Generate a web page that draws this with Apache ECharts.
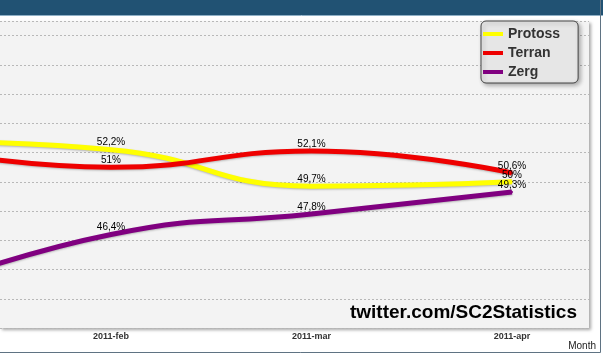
<!DOCTYPE html>
<html>
<head>
<meta charset="utf-8">
<script src="https://cdn.jsdelivr.net/npm/echarts@6/dist/echarts.min.js"></script>
<style>
html,body{margin:0;padding:0;background:#fff;}
#chart{width:603px;height:364px;}
</style>
</head>
<body>
<div id="chart"></div>
<script>
const categories = ['2011-jan', '2011-feb', '2011-mar', '2011-apr'];
const protoss = [52.8, 52.2, 49.7, 50.0];
const terran = [52.4, 51.0, 52.1, 50.6];
const zerg = [42.3, 46.4, 47.8, 49.3];
const seriesNames = ['Protoss', 'Terran', 'Zerg'];
const yMin = 40, yMax = 61, yStep = 2;

const chart = echarts.init(document.getElementById('chart'), null, {renderer: 'canvas'});

function fmt(p) {
  return String(p.value).replace('.', ',') + '%';
}
function lineSeries(name, data, color) {
  return {
    name: name,
    type: 'line',
    xAxisIndex: 1,
    yAxisIndex: 1,
    data: data,
    smooth: 0.5,
    clip: true,
    symbol: 'circle',
    symbolSize: 2,
    color: color,
    itemStyle: {color: color},
    lineStyle: {width: 5, color: color, shadowColor: 'rgba(0,0,0,0.25)', shadowBlur: 2, shadowOffsetY: 1},
    label: {
      show: true, position: 'top', distance: 1,
      fontFamily: 'Liberation Sans', fontSize: 10, color: '#000',
      formatter: fmt
    },
    z: 3
  };
}

chart.setOption({
  animation: false,
  backgroundColor: '#ffffff',
  grid: [
    {left: 0, top: 21, width: 589, height: 307, show: true, backgroundColor: '#f3f3f3', borderWidth: 0,
     outerBoundsMode: 'none', containLabel: false,
     shadowColor: 'rgba(0,0,0,0.35)', shadowBlur: 3, shadowOffsetX: 2, shadowOffsetY: 2},
    {left: -89.5, top: 21, width: 601.5, height: 307, outerBoundsMode: 'none', containLabel: false}
  ],
  xAxis: [
    {type: 'value', gridIndex: 0, min: 0, max: 1, show: false},
    {type: 'category', gridIndex: 1, data: categories, boundaryGap: false,
     axisLine: {show: false}, axisTick: {show: false}, splitLine: {show: false},
     axisLabel: {margin: 4, fontFamily: 'Liberation Sans', fontWeight: 'bold', fontSize: 9, color: '#333'}}
  ],
  yAxis: [
    {type: 'value', gridIndex: 0, min: yMin, max: yMax, interval: yStep,
     axisLine: {show: false}, axisTick: {show: false}, axisLabel: {show: false},
     splitLine: {show: true, lineStyle: {color: '#b8b8b8', width: 1, type: [2, 2]}}},
    {type: 'value', gridIndex: 1, min: yMin, max: yMax, interval: yStep, show: false,
     splitLine: {show: false}}
  ],
  legend: {
    data: seriesNames,
    orient: 'vertical',
    left: 481, top: 21,
    icon: 'rect', itemWidth: 20, itemHeight: 4, itemGap: 3, itemTextGap: 5,
    padding: [5, 18, 3, 2],
    backgroundColor: '#e6e6e6', borderColor: '#444', borderWidth: 1, borderRadius: 5,
    shadowColor: 'rgba(0,0,0,0.3)', shadowBlur: 4, shadowOffsetX: 2, shadowOffsetY: 2,
    textStyle: {fontFamily: 'Liberation Sans', fontWeight: 'bold', fontSize: 14, color: '#333', lineHeight: 16}
  },
  graphic: [
    {type: 'rect', shape: {x: 0, y: 0, width: 603, height: 15}, style: {fill: '#215273'}, z: 10},
    {type: 'line', shape: {x1: 0, y1: 15.5, x2: 603, y2: 15.5}, style: {stroke: '#8fb0c6', lineWidth: 1}, z: 10},
    {type: 'polyline', shape: {points: [[600.5, 0], [600.5, 352.5], [0, 352.5]]}, style: {stroke: '#5f7383', lineWidth: 1, fill: null}, z: 10},
    {type: 'text', x: 577, y: 313, style: {text: 'twitter.com/SC2Statistics', fill: '#000', font: 'bold 19px "Liberation Sans"', textAlign: 'right', textVerticalAlign: 'middle'}, z: 10},
    {type: 'text', x: 596, y: 346, style: {text: 'Month', fill: '#222', font: '10px "Liberation Sans"', textAlign: 'right', textVerticalAlign: 'middle'}, z: 10}
  ],
  series: [
    lineSeries('Protoss', protoss, '#ffff00'),
    lineSeries('Terran', terran, '#ee0000'),
    lineSeries('Zerg', zerg, '#800080')
  ]
});
</script>
</body>
</html>
